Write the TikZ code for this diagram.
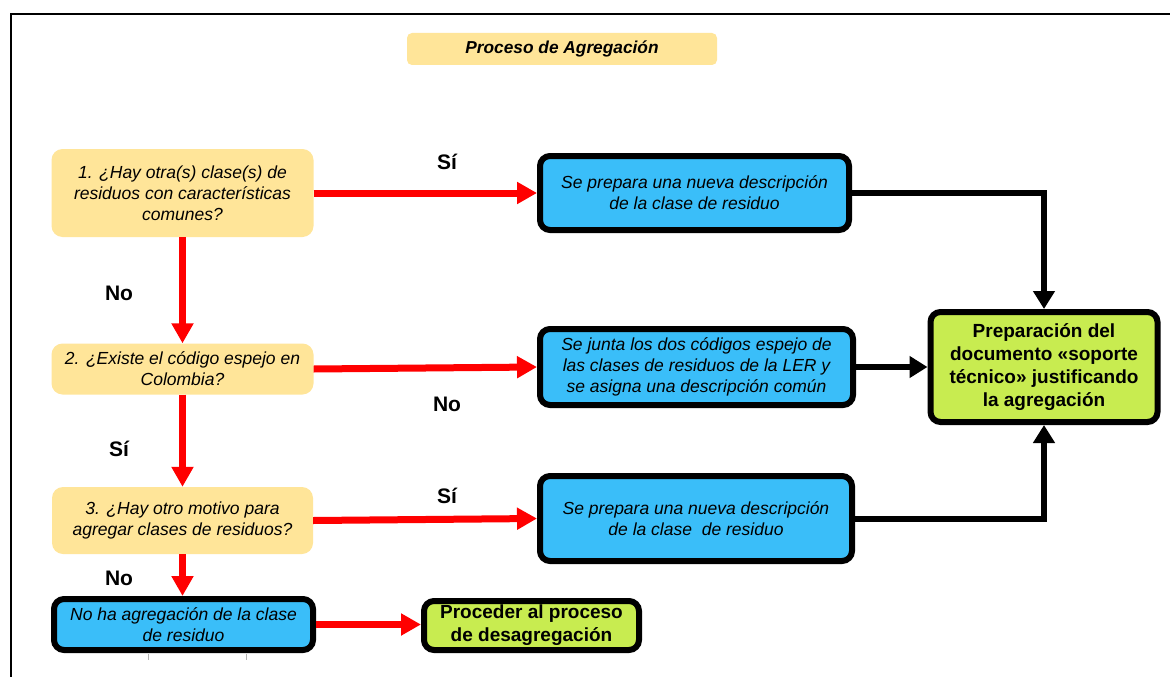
\documentclass[tikz,border=0pt]{standalone}
\usepackage{fontspec}
\setmainfont{Liberation Sans}
\usetikzlibrary{arrows.meta}
\definecolor{qyellow}{HTML}{FFE599}
\definecolor{bblue}{HTML}{3ABEF9}
\definecolor{ggreen}{HTML}{C8EC50}
\definecolor{rred}{HTML}{FF0000}
\tikzset{
  qbox/.style={fill=qyellow, rounded corners=11pt, align=center, inner sep=2pt,
    font=\fontsize{17.5}{21}\selectfont\itshape},
  bbox/.style={draw=black, line width=6pt, fill=bblue, rounded corners=10pt, align=center, inner sep=2pt,
    font=\fontsize{17.5}{21}\selectfont\itshape},
  gbox/.style={draw=black, line width=6pt, fill=ggreen, rounded corners=10pt, align=center, inner sep=2pt,
    font=\fontsize{19}{23}\selectfont\bfseries},
  lbl/.style={font=\fontsize{21}{24}\selectfont\bfseries, inner sep=0pt},
  redarrow/.style={draw=rred, line width=7pt, -{Triangle[length=20pt,width=21pt]}},
  blackarrow/.style={draw=black, line width=6pt, line join=miter, -{Triangle[length=18pt,width=21pt]}},
}
\begin{document}
\begin{tikzpicture}[x=1pt,y=-1pt]
\useasboundingbox (0,0) rectangle (1170,677);
\fill[white] (0,0) rectangle (1170,677);
% frame
\draw[line width=2.5pt] (11,677) -- (11,14) -- (1170,14);
% title
\node[fill=qyellow, rounded corners=5pt, minimum width=310pt, minimum height=32pt,
  font=\fontsize{17.3}{20}\selectfont\bfseries\itshape] (title) at (562,49) {Proceso de Agregación};
% questions
\node[qbox, minimum width=262pt, minimum height=88pt] (q1) at (182.5,193)
  {1. ¿Hay otra(s) clase(s) de\\residuos con características\\comunes?};
\node[qbox, minimum width=262pt, minimum height=51pt] (q2) at (182.5,369)
  {2. ¿Existe el código espejo en\\Colombia?};
\node[qbox, minimum width=261pt, minimum height=67pt] (q3) at (182.5,520.5)
  {3. ¿Hay otro motivo para\\agregar clases de residuos?};
% blue boxes
\node[bbox, minimum width=309pt, minimum height=74pt] (b1) at (694.5,193)
  {Se prepara una nueva descripción\\de la clase de residuo};
\node[bbox, minimum width=313pt, minimum height=76pt] (b2) at (696.5,367)
  {Se junta los dos códigos espejo de\\las clases de residuos de la LER y\\se asigna una descripción común};
\node[bbox, minimum width=312pt, minimum height=85pt] (b3) at (696,518.5)
  {Se prepara una nueva descripción\\de la clase\ \ de residuo};
\node[bbox, minimum width=259pt, minimum height=51pt] (b4) at (183.5,624.5)
  {No ha agregación de la clase\\de residuo};
% green boxes
\node[gbox, minimum width=215pt, minimum height=49pt] (g1) at (531.5,625.5)
  {Proceder al proceso\\de desagregación};
\node[gbox, minimum width=227pt, minimum height=110pt] (g2) at (1044,367)
  {Preparación del\\documento «soporte\\técnico» justificando\\la agregación};
% red arrows
\draw[redarrow] (q1.east) -- (b1.west);
\draw[redarrow] (q1.south) -- (q2.north);
\draw[redarrow] (q2.east) -- (b2.west);
\draw[redarrow] (q2.south) -- (q3.north);
\draw[redarrow] (q3.east) -- (b3.west);
\draw[redarrow] (q3.south) -- (q3.south |- b4.north);
\draw[redarrow] (b4.east) -- (b4.east -| g1.west);
% black arrows
\draw[blackarrow] (b1.east) -| (g2.north);
\draw[blackarrow] (b2.east) -- (g2.west);
\draw[blackarrow] (b3.east) -| (g2.south);
% labels
\node[lbl] (s1) at (447,162) {Sí};
\node[lbl] (n1) at (119,293) {No};
\node[lbl] (n2) at (447,404) {No};
\node[lbl] (s2) at (119,449) {Sí};
\node[lbl] (s3) at (447,496) {Sí};
\node[lbl] (n3) at (119,578) {No};
% small marks under box
\draw[gray!60, line width=0.6pt] (148.5,654) -- (148.5,660);
\draw[gray!60, line width=0.6pt] (246,654) -- (246,660);
\end{tikzpicture}
\end{document}
